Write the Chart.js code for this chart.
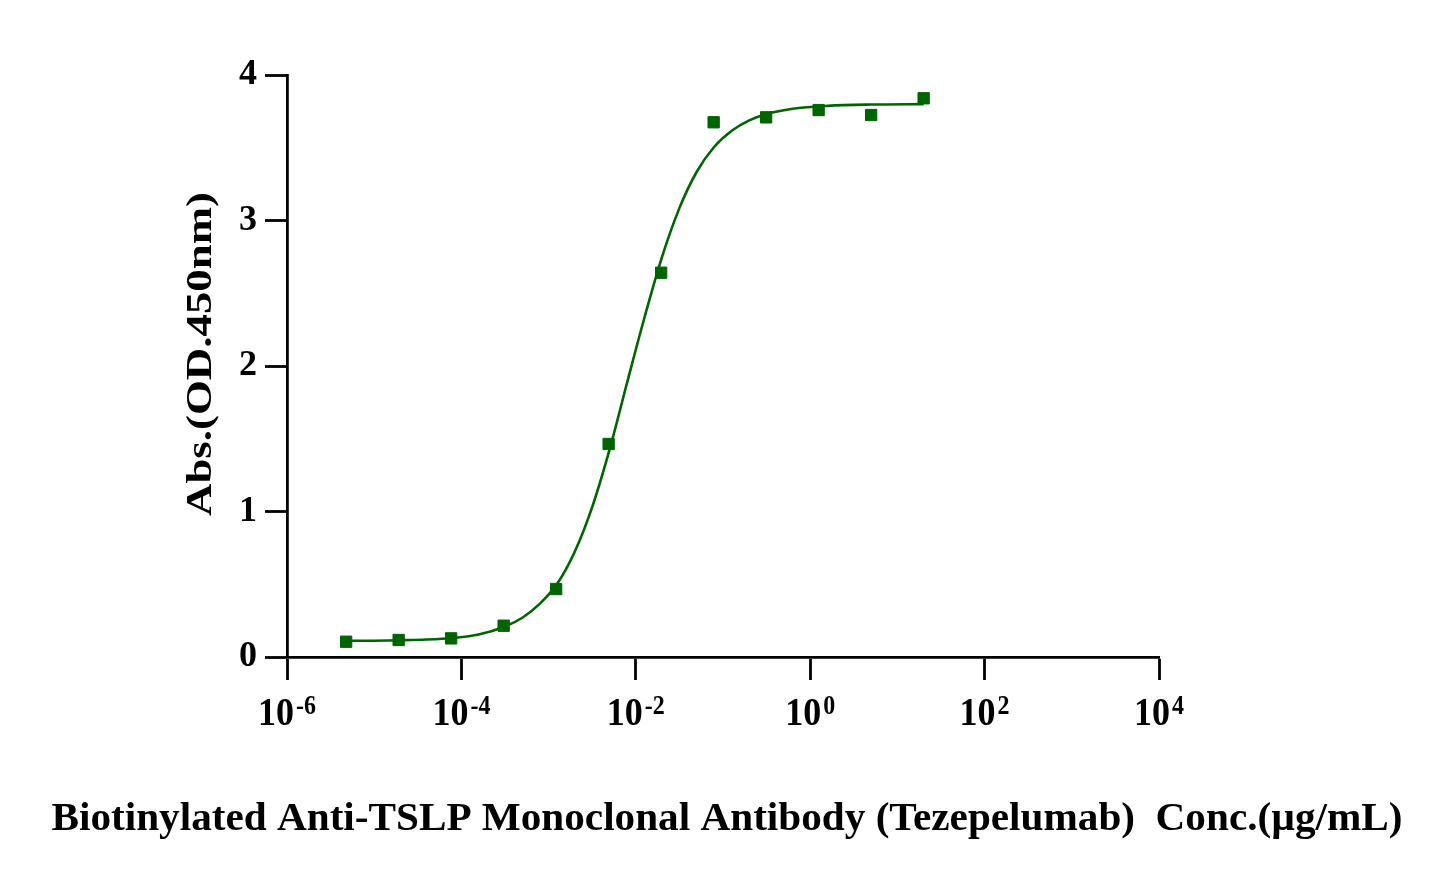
<!DOCTYPE html>
<html>
<head>
<meta charset="utf-8">
<title>Biotinylated Anti-TSLP Monoclonal Antibody (Tezepelumab) ELISA</title>
<script src="https://cdn.jsdelivr.net/npm/chart.js@4.4.1/dist/chart.umd.min.js"></script>
<style>
  html, body { margin: 0; padding: 0; background: #fff; }
  #wrap { width: 1445px; height: 881px; position: relative; }
</style>
</head>
<body>
<div id="wrap"><canvas id="myChart" width="1445" height="881"></canvas></div>
<script>
// measured points (conc in ug/mL, OD450)
const concs = [20, 5, 1.25, 0.3125, 0.078125, 0.01953, 0.004883, 0.001221, 0.0003052, 0.0000763, 0.00001907, 0.00000477];
const absValues = [3.84, 3.725, 3.759, 3.709, 3.675, 2.641, 1.464, 0.467, 0.215, 0.128, 0.117, 0.105];

// fitted curve
const curveX = [4.8e-6, 1e-5, 2e-5, 4e-5, 7.9e-5, 1.58e-4, 3.16e-4, 5e-4, 7.9e-4, 1.26e-3, 2e-3, 3.16e-3, 5e-3, 7.9e-3, 1.26e-2, 2e-2, 3.16e-2, 5e-2, 7.9e-2, 0.126, 0.2, 0.316, 0.63, 1.58, 5, 20];
const curveY = [0.111, 0.112, 0.115, 0.12, 0.131, 0.155, 0.21, 0.27, 0.365, 0.505, 0.725, 1.03, 1.425, 1.88, 2.335, 2.75, 3.085, 3.335, 3.505, 3.617, 3.688, 3.732, 3.768, 3.788, 3.797, 3.80];

// axis ticks
const xTickValues = [1e-6, 1e-4, 1e-2, 1, 1e2, 1e4];
const xTickExps = ['-6', '-4', '-2', '0', '2', '4'];
const yTickValues = [0, 1, 2, 3, 4];

const xTitle = 'Biotinylated Anti-TSLP Monoclonal Antibody (Tezepelumab)  Conc.(\u00b5g/mL)';
const yTitle = 'Abs.(OD.450nm)';

const serif = '"Liberation Serif", "Times New Roman", Times, serif';
const green = '#006400';

// superscript tick labels and the two axis titles
const textPlugin = {
    id: 'axisText',
    afterDraw(chart) {
        const ctx = chart.ctx;
        const xs = chart.scales.x;
        ctx.save();
        ctx.fillStyle = '#000';
        ctx.textBaseline = 'alphabetic';
        ctx.textAlign = 'left';

        xTickValues.forEach((v, i) => {
            const px = xs.getPixelForValue(v);
            ctx.font = 'bold 36px ' + serif;
            const w1 = ctx.measureText('10').width;
            ctx.font = 'bold 24px ' + serif;
            const w2 = ctx.measureText(xTickExps[i]).width;
            const start = px - (w1 + 2 + w2) / 2;
            ctx.save();
            ctx.translate(start, 725);
            ctx.scale(1, 1.1);
            ctx.font = 'bold 36px ' + serif;
            ctx.fillText('10', 0, 0);
            ctx.font = 'bold 24px ' + serif;
            ctx.fillText(xTickExps[i], w1 + 2, -10);
            ctx.restore();
        });

        // x title, squeezed to the width it has in the figure
        ctx.font = 'bold 40px ' + serif;
        const tw = ctx.measureText(xTitle).width;
        ctx.save();
        ctx.translate(727, 830);
        ctx.scale(1351 / tw, 1.02);
        ctx.textAlign = 'center';
        ctx.fillText(xTitle, 0, 0);
        ctx.restore();

        // y title, rotated and stretched along its length
        ctx.font = 'bold 35px ' + serif;
        const yw = ctx.measureText(yTitle).width;
        ctx.save();
        ctx.translate(211, 354);
        ctx.rotate(-Math.PI / 2);
        ctx.scale(324 / yw, 1);
        ctx.textAlign = 'center';
        ctx.fillText(yTitle, 0, 0);
        ctx.restore();

        ctx.restore();
    }
};

const ctx = document.getElementById('myChart').getContext('2d');
new Chart(ctx, {
    type: 'scatter',
    data: {
        datasets: [
            {
                label: 'Measured',
                data: concs.map((c, i) => ({ x: c, y: absValues[i] })),
                pointStyle: 'rect',
                pointRadius: 8,
                pointBorderWidth: 1,
                backgroundColor: green,
                borderColor: green,
                showLine: false,
                order: 0
            },
            {
                label: 'Fit',
                data: curveX.map((c, i) => ({ x: c, y: curveY[i] })),
                showLine: true,
                pointRadius: 0,
                borderColor: green,
                borderWidth: 2.6,
                cubicInterpolationMode: 'monotone',
                fill: false,
                order: 1
            }
        ]
    },
    options: {
        responsive: false,
        animation: false,
        devicePixelRatio: 1,
        layout: { padding: { top: 75, right: 286, left: 0, bottom: 0 } },
        plugins: {
            legend: { display: false },
            tooltip: { enabled: false }
        },
        scales: {
            x: {
                type: 'logarithmic',
                min: 1e-6,
                max: 1e4,
                afterBuildTicks: scale => {
                    scale.ticks = xTickValues.map(v => ({ value: v, major: true }));
                },
                afterFit: scale => { scale.height = 224; },
                ticks: { display: false },
                grid: {
                    drawOnChartArea: false,
                    drawTicks: true,
                    tickLength: 23,
                    tickWidth: 2.8,
                    color: '#000'
                },
                border: { display: true, color: '#000', width: 2.8 }
            },
            y: {
                min: 0,
                max: 4,
                afterBuildTicks: scale => {
                    scale.ticks = yTickValues.map(v => ({ value: v }));
                },
                afterFit: scale => { scale.width = 287; },
                ticks: {
                    color: '#000',
                    padding: 8,
                    font: { family: serif, size: 36, weight: 'bold' }
                },
                grid: {
                    drawOnChartArea: false,
                    drawTicks: true,
                    tickLength: 22,
                    tickWidth: 2.8,
                    color: '#000'
                },
                border: { display: true, color: '#000', width: 2.8 }
            }
        }
    },
    plugins: [textPlugin]
});
</script>
</body>
</html>
